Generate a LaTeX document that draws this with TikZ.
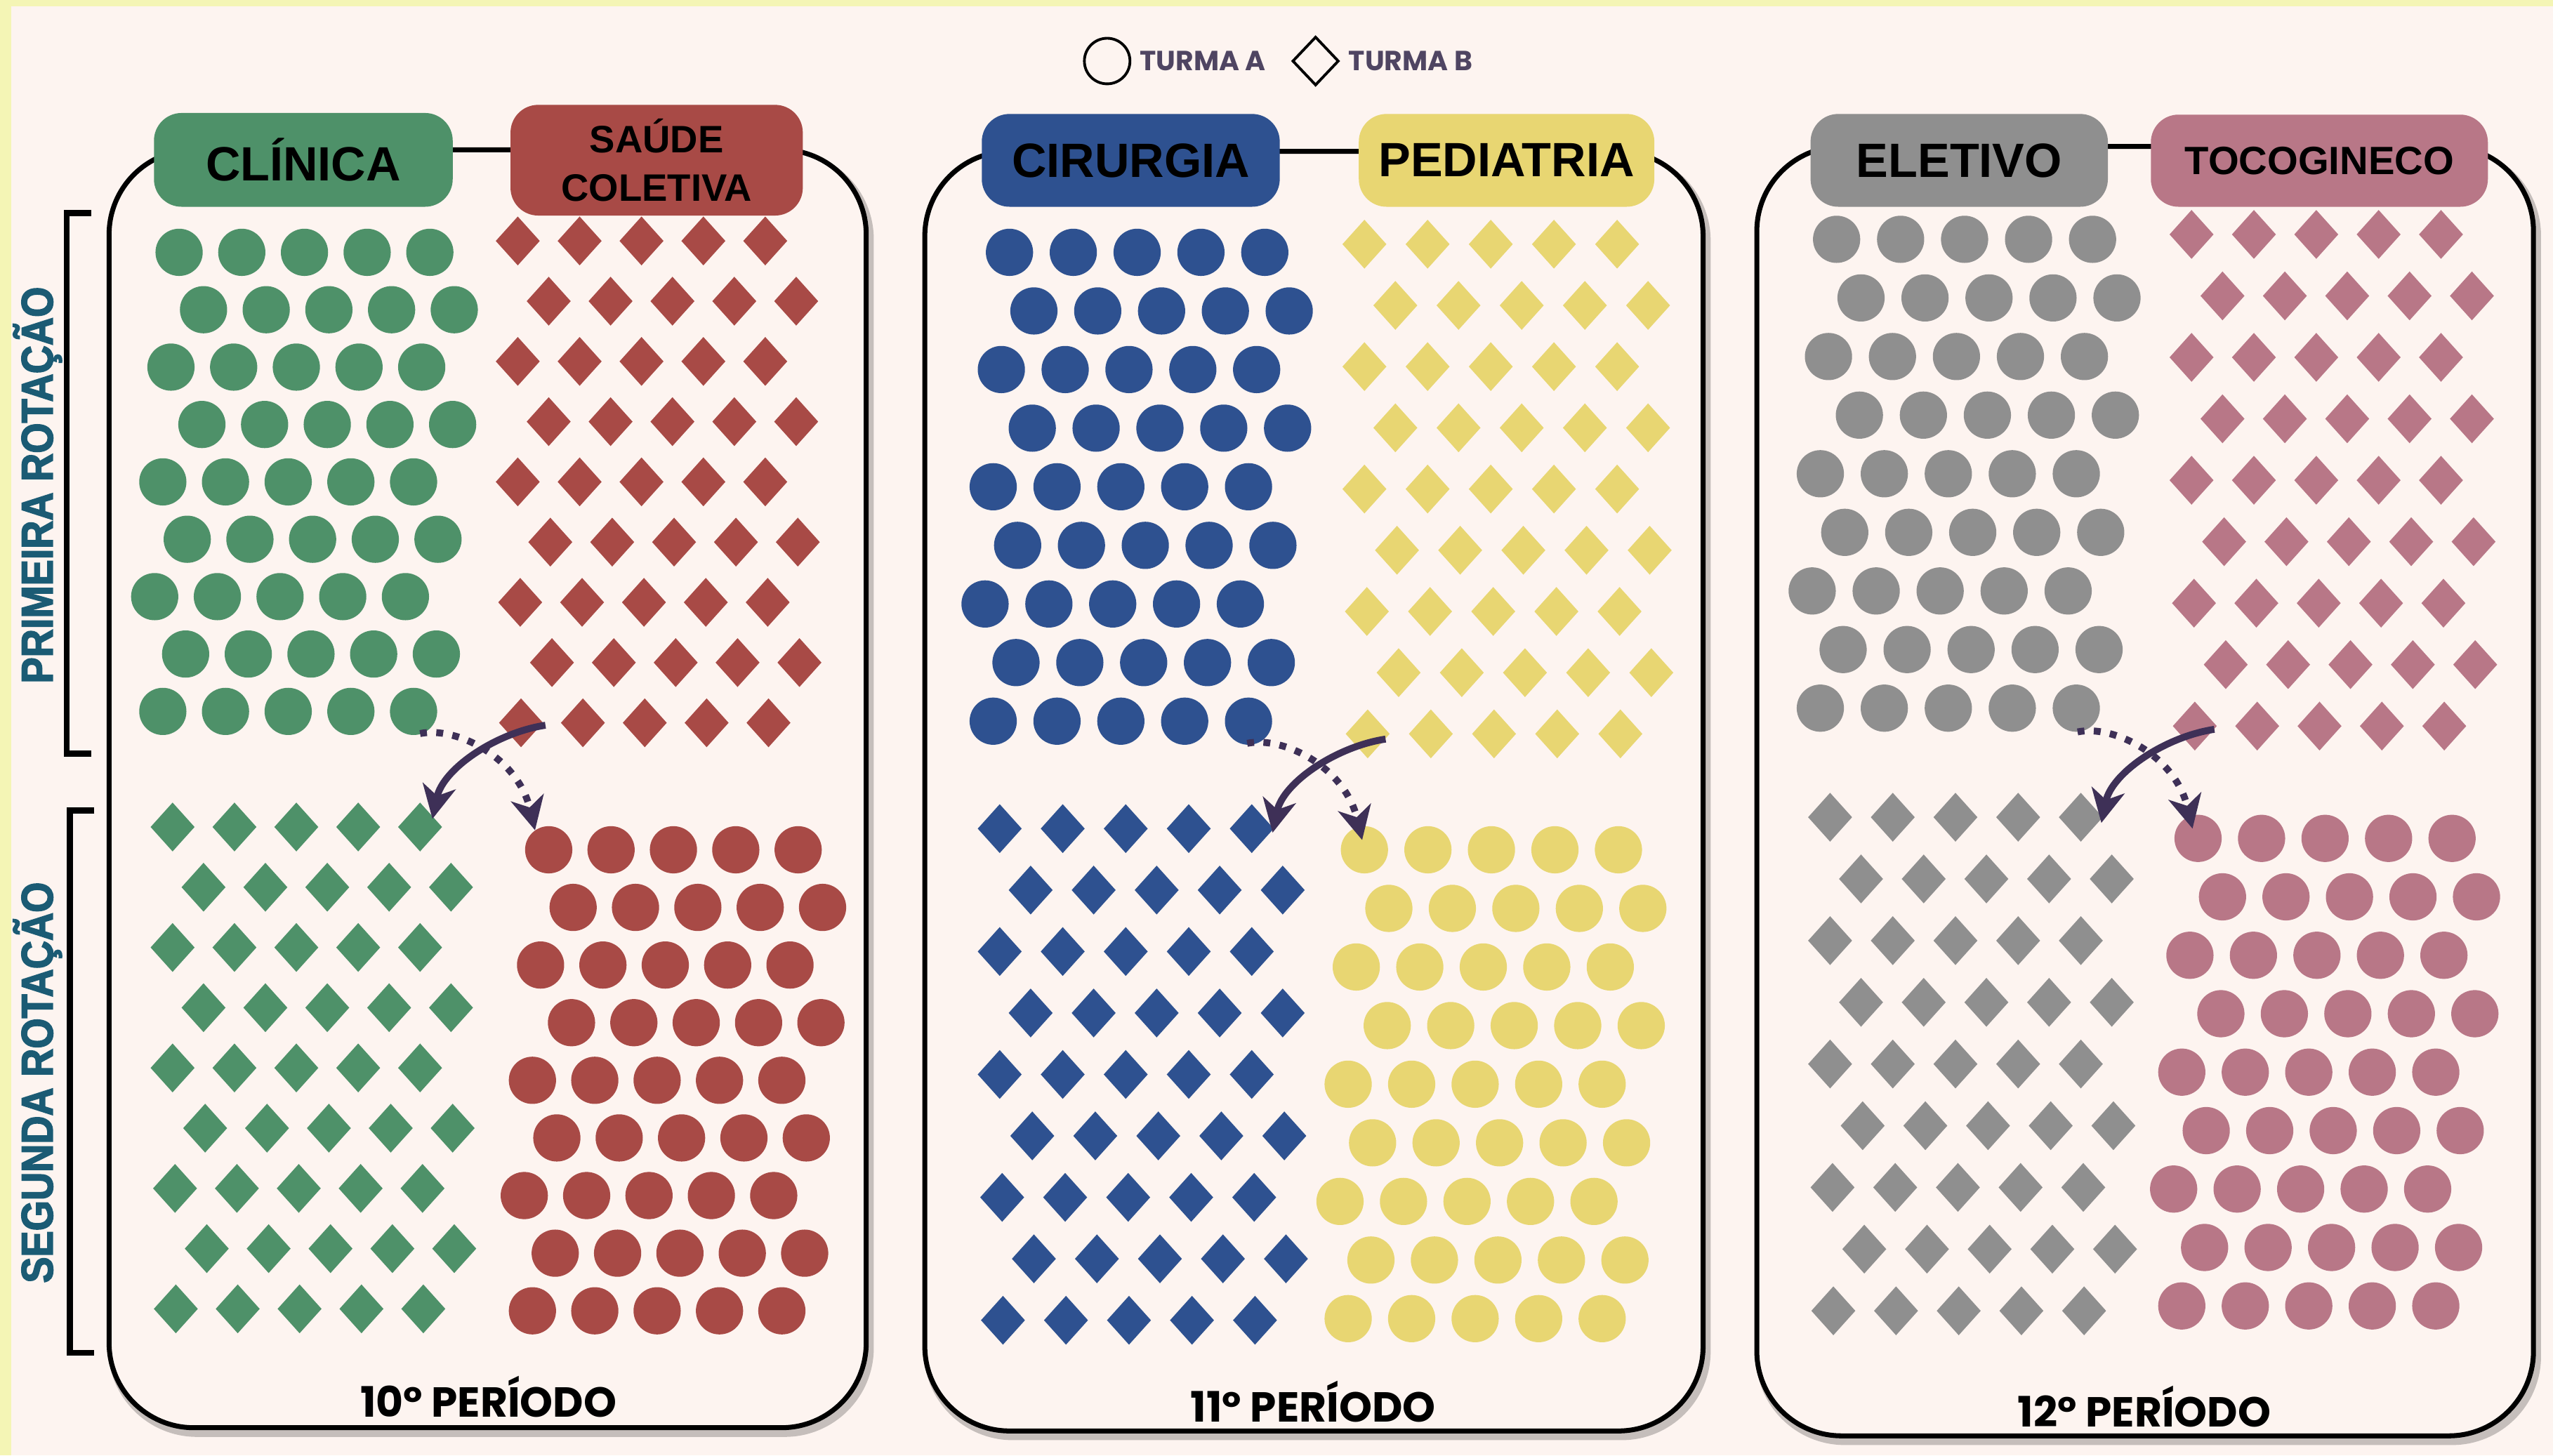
\documentclass[tikz,border=0pt]{standalone}
\usepackage{fontspec}
\setmainfont{Liberation Sans}
\newfontfamily\popfont{Poppins}
\newfontfamily\sidefont[FakeStretch=0.88, FakeBold=2.5]{Liberation Sans}
\usetikzlibrary{positioning,arrows.meta,shapes.geometric}

\definecolor{bgcream}{HTML}{FDF4F0}
\definecolor{stripc}{HTML}{F4F5B5}
\definecolor{clinicac}{HTML}{4E9169}
\definecolor{saudec}{HTML}{A84A46}
\definecolor{cirurgiac}{HTML}{2E5190}
\definecolor{pediatriac}{HTML}{E8D672}
\definecolor{eletivoc}{HTML}{8F8F8F}
\definecolor{tococ}{HTML}{B87787}
\definecolor{arrowc}{HTML}{3E3057}
\definecolor{tealc}{HTML}{1B5B74}
\definecolor{legendc}{HTML}{4F4562}

% one pixel of the layout
\newdimen\upx \upx=0.02319cm

% nine rows of five circles
\newcommand{\dotrows}[5]{%
  \foreach \row/\sh in {0/0,1/15,2/-5,3/14,4/-10,5/5,6/-15,7/4,8/-10}
    \foreach \col in {0,...,4}
      \fill[#5] ({#1+\sh+#3*\col},{#2+#4*\row}) circle (14.5);}

% nine rows of five diamonds
\newcommand{\diamrows}[5]{%
  \foreach \row/\sh in {0/0,1/19,2/0,3/19,4/0,5/20,6/1.5,7/21,8/2}
    \foreach \col in {0,...,4}
      \fill[#5] ({#1+\sh+#3*\col},{#2+#4*\row})
        +(-13.5,0) -- +(0,-15) -- +(13.5,0) -- +(0,15) -- cycle;}

\tikzset{
  panel/.style={draw=black, line width=2pt, fill=bgcream, rounded corners=52\upx},
  panelshadow/.style={draw=black, opacity=0.22, line width=3.5pt, rounded corners=52\upx},
  hdr/.style={rectangle, rounded corners=17\upx, inner sep=0, text=black,
    font=\bfseries\fontsize{19.5}{22}\selectfont},
  period/.style={inner sep=0, font=\popfont\bfseries\fontsize{17}{20}\selectfont},
  sidelbl/.style={inner sep=0, text=tealc, rotate=90,
    font=\sidefont\bfseries\fontsize{18}{20}\selectfont},
  legtxt/.style={inner sep=0, text=legendc,
    font=\popfont\bfseries\fontsize{11.2}{13}\selectfont},
  bracket/.style={draw=black, line width=2.5pt},
  swapline/.style={draw=arrowc, line width=2.8pt,
    -{Stealth[length=13.5pt,width=13.5pt,inset=4pt]}},
  swapdots/.style={swapline, line width=2.8pt, dash pattern=on 2.8pt off 3.8pt}
}

\begin{document}
\begin{tikzpicture}[x=0.02319cm, y=-0.02319cm]
  \useasboundingbox (0,0) rectangle (1568,894);
  \fill[bgcream] (0,0) rectangle (1568,894);
  \fill[stripc] (0,0) rectangle (1568,4);
  \fill[stripc] (0,0) rectangle (7,894);

  % Panels
  \foreach \xa/\ya/\xb/\yb in {67/92/532/877, 568/93/1046/879, 1079/90/1556/882} {
    \draw[panelshadow] (\xa+2,\ya+3) rectangle (\xb+2,\yb+3);
    \filldraw[panel] (\xa,\ya) rectangle (\xb,\yb);
  }

  % Headers
  \node[hdr, fill=clinicac, minimum width=183.5\upx, minimum height=57.6\upx] (clinica) at (186.3,98.2) {CLÍNICA};
  \node[hdr, fill=saudec, minimum width=179.5\upx, minimum height=68\upx, align=center,
    font=\bfseries\fontsize{15.5}{19.5}\selectfont] (saude) at (403.3,98.4) {SAÚDE\\COLETIVA};
  \node[hdr, fill=cirurgiac, minimum width=183\upx, minimum height=57\upx] (cirurgia) at (694.5,98.5) {CIRURGIA};
  \node[hdr, fill=pediatriac, minimum width=181.5\upx, minimum height=57\upx] (pediatria) at (925.3,98.5) {PEDIATRIA};
  \node[hdr, fill=eletivoc, minimum width=182.6\upx, minimum height=57\upx] (eletivo) at (1203.3,98.5) {ELETIVO};
  \node[hdr, fill=tococ, minimum width=207\upx, minimum height=56.6\upx,
    font=\bfseries\fontsize{16}{19}\selectfont] (toco) at (1424.5,98.7) {TOCOGINECO};

  % First rotation
  \dotrows{110}{155}{38.5}{35.25}{clinicac}
  \diamrows{318}{148}{38}{37}{saudec}
  \dotrows{620}{155}{39.2}{36}{cirurgiac}
  \diamrows{838}{150}{38.8}{37.6}{pediatriac}
  \dotrows{1128}{147}{39.3}{36}{eletivoc}
  \diamrows{1346}{144}{38.3}{37.75}{tococ}

  % Second rotation
  \diamrows{106}{508}{38}{37}{clinicac}
  \dotrows{337}{522}{38.3}{35.4}{saudec}
  \diamrows{614}{509}{38.7}{37.75}{cirurgiac}
  \dotrows{838}{522}{39}{36}{pediatriac}
  \diamrows{1124}{502}{38.5}{37.9}{eletivoc}
  \dotrows{1350}{515}{39}{35.9}{tococ}

  % Swap arrows
  \foreach \p/\ax/\ay/\bx/\by in {1/0/0/0/0, 2/516/8.5/508/6, 3/1025/2.5/1018/-1} {
    \begin{scope}[shift={(\ax,\ay)}]
      \coordinate (from\p) at (335,445.5);
      \coordinate (to\p) at (265.6,503);
      \draw[swapline] (from\p) .. controls (305,450) and (272,472) .. (to\p);
    \end{scope}
    \begin{scope}[shift={(\bx,\by)}]
      \coordinate (dfrom\p) at (258,450.6);
      \coordinate (dto\p) at (328.6,510);
      \draw[swapdots] (dfrom\p) .. controls (280,446) and (318,465) .. (dto\p);
    \end{scope}
  }

  % Rotation brackets
  \draw[bracket] (56,131) -- (41,131) -- (41,463) -- (56,463);
  \draw[bracket] (58,498) -- (43,498) -- (43,831) -- (58,831);
  \node[sidelbl] (rot1) at (23,298) {PRIMEIRA ROTAÇÃO};
  \node[sidelbl] (rot2) at (23,665) {SEGUNDA ROTAÇÃO};

  % Periods
  \node[period] (p10) at (300,858) {10º PERÍODO};
  \node[period] (p11) at (806.5,861) {11º PERÍODO};
  \node[period] (p12) at (1317,864) {12º PERÍODO};

  % Legend
  \node[circle, draw, line width=1.1pt, minimum size=28\upx, inner sep=0] (keyA) at (680,37.5) {};
  \node[legtxt, right=5\upx of keyA] (keyAtxt) {TURMA A};
  \node[diamond, draw, line width=1.1pt, minimum width=28.5\upx, minimum height=30\upx, inner sep=0] (keyB) at (808,37.5) {};
  \node[legtxt, right=5\upx of keyB] (keyBtxt) {TURMA B};
\end{tikzpicture}
\end{document}
